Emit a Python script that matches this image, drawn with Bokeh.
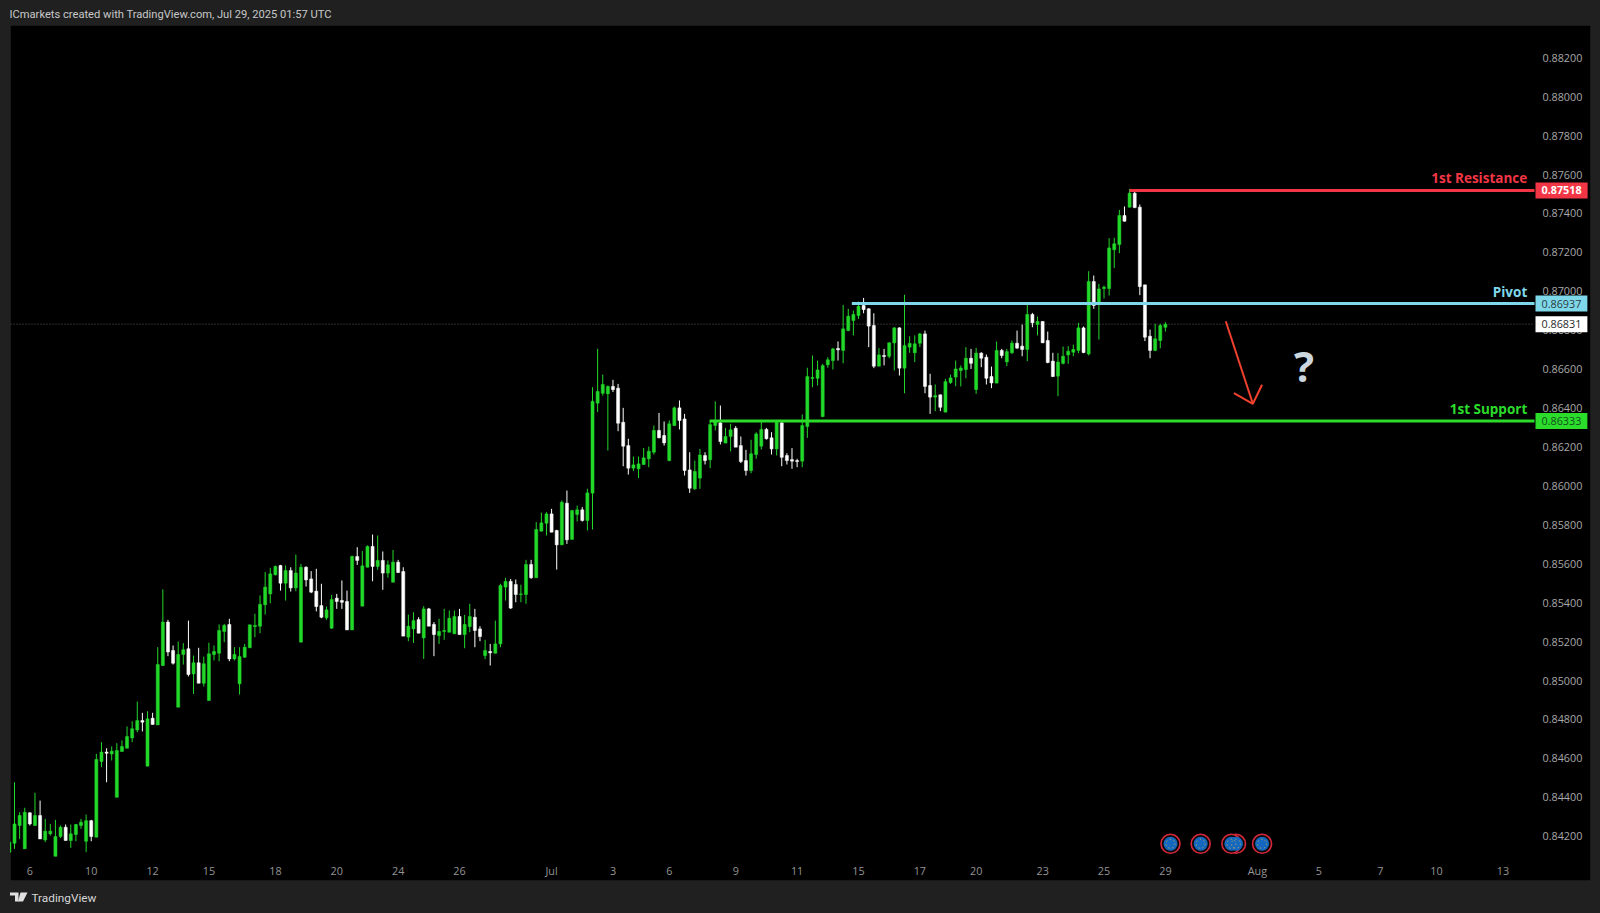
from bokeh.plotting import figure
from bokeh.models import (ColumnDataSource, Range1d, FixedTicker, PrintfTickFormatter,
                          BoxAnnotation, Label, PolyAnnotation)
from bokeh.core.properties import value
from bokeh.embed import file_html
from bokeh.resources import INLINE

opens = [.84118,.84164,.84255,.84135,.84320,.84255,.84306,.84181,.84212,.84097,
 .84198,.84246,.84178,.84209,.84255,.84174,.84280,.84195,.84584,.84632,
 .84623,.84400,.84635,.84652,.84705,.84746,.84794,.84560,.84806,.84772,
 .85077,.85300,.85154,.84863,.85134,.85163,.85034,.85091,.84986,.84897,
 .85134,.85140,.85252,.85288,.85111,.84983,.85120,.85168,.85277,.85279,
 .85389,.85445,.85543,.85591,.85500,.85565,.85476,.85197,.85582,.85522,
 .85459,.85385,.85322,.85269,.85423,.85411,.85406,.85260,.85637,.85382,
 .85582,.85689,.85586,.85617,.85552,.85505,.85608,.85560,.85223,.85265,
 .85313,.85219,.85368,.85288,.85231,.85252,.85248,.85240,.85329,.85236,
 .85277,.85325,.85265,.85128,.85149,.85140,.85188,.85480,.85509,.85493,
 .85442,.85442,.85596,.85528,.85767,.85808,.85856,.85771,.85697,.85911,
 .85725,.85853,.85877,.85822,.85963,.86425,.86476,.86473,.86511,.86502,
 .86327,.86207,.86091,.86088,.86110,.86139,.86173,.86285,.86259,.86130,
 .86310,.86401,.86344,.86082,.85985,.86040,.86156,.86134,.86310,.86324,
 .86220,.86254,.86296,.86207,.86130,.86079,.86161,.86204,.86290,.86247,
 .86190,.86324,.86156,.86135,.86130,.86127,.86305,.86552,.86553,.86356,
 .86622,.86644,.86706,.86696,.86798,.86850,.86875,.86927,.86910,.86824,
 .86615,.86670,.86666,.86735,.86812,.86605,.86713,.86684,.86733,.86781,
 .86516,.86456,.86468,.86379,.86531,.86559,.86593,.86598,.86656,.86495,
 .86682,.86661,.86562,.86528,.86696,.86637,.86684,.86733,.86718,.86701,
 .86881,.86829,.86845,.86747,.86641,.86564,.86630,.86673,.86687,.86696,
 .86812,.86678,.87050,.86941,.87014,.87014,.87213,.87240,.87389,.87432,
 .87504,.87432,.87033,.86769,.86696,.86747,.86815]
highs = [.84229,.84477,.84323,.84346,.84323,.84423,.84383,.84289,.84263,.84284,
 .84255,.84260,.84260,.84263,.84289,.84311,.84284,.84623,.84683,.84652,
 .84661,.84678,.84692,.84764,.84791,.84892,.84834,.84842,.84834,.85171,
 .85468,.85312,.85180,.85200,.85192,.85308,.85128,.85168,.85123,.85194,
 .85180,.85288,.85291,.85317,.85171,.85171,.85188,.85286,.85343,.85437,
 .85557,.85579,.85591,.85594,.85591,.85582,.85647,.85599,.85587,.85562,
 .85574,.85497,.85380,.85440,.85445,.85514,.85462,.85642,.85685,.85665,
 .85694,.85750,.85745,.85663,.85617,.85671,.85620,.85582,.85339,.85351,
 .85325,.85382,.85373,.85300,.85317,.85368,.85360,.85360,.85368,.85337,
 .85394,.85368,.85279,.85209,.85188,.85308,.85497,.85528,.85522,.85519,
 .85492,.85620,.85620,.85814,.85862,.85865,.85882,.85774,.85925,.85976,
 .85877,.85899,.85891,.85985,.86507,.86704,.86572,.86516,.86545,.86524,
 .86401,.86242,.86151,.86151,.86195,.86202,.86310,.86375,.86331,.86336,
 .86408,.86439,.86370,.86173,.86130,.86190,.86173,.86336,.86434,.86413,
 .86298,.86319,.86307,.86254,.86185,.86237,.86276,.86339,.86298,.86276,
 .86327,.86332,.86168,.86194,.86139,.86367,.86607,.86670,.86644,.86627,
 .86661,.86709,.86742,.86930,.86910,.86901,.86947,.86966,.86913,.86887,
 .86708,.86704,.86738,.86815,.86815,.86982,.86769,.86773,.86786,.86798,
 .86576,.86521,.86469,.86550,.86572,.86644,.86619,.86713,.86704,.86709,
 .86687,.86675,.86613,.86742,.86704,.86704,.86747,.86798,.86829,.86935,
 .86889,.86870,.86845,.86793,.86684,.86682,.86716,.86718,.86726,.86838,
 .86819,.87103,.87081,.87038,.87030,.87273,.87275,.87418,.87436,.87526,
 .87518,.87446,.87033,.86803,.86833,.86833,.86841]
lows = [.84118,.84135,.84186,.84135,.84255,.84255,.84186,.84169,.84203,.84097,
 .84191,.84178,.84140,.84174,.84238,.84118,.84174,.84195,.84555,.84477,
 .84589,.84400,.84635,.84652,.84683,.84734,.84738,.84560,.84774,.84772,
 .85074,.85125,.85082,.84863,.85082,.85021,.84931,.84986,.84969,.84897,
 .85103,.85099,.85197,.85099,.85103,.84928,.85116,.85168,.85223,.85243,
 .85339,.85397,.85540,.85462,.85411,.85457,.85459,.85197,.85483,.85449,
 .85355,.85320,.85312,.85265,.85368,.85368,.85260,.85260,.85594,.85382,
 .85582,.85510,.85569,.85466,.85528,.85505,.85552,.85228,.85202,.85193,
 .85243,.85111,.85279,.85125,.85188,.85209,.85248,.85240,.85236,.85166,
 .85248,.85171,.85202,.85110,.85077,.85140,.85171,.85411,.85368,.85402,
 .85402,.85394,.85522,.85528,.85767,.85745,.85762,.85570,.85697,.85702,
 .85725,.85817,.85817,.85771,.85776,.86379,.86464,.86182,.86482,.86281,
 .86101,.86058,.86076,.86040,.86108,.86096,.86161,.86245,.86207,.86127,
 .86310,.86290,.86053,.85964,.85980,.85985,.86110,.86091,.86285,.86213,
 .86220,.86177,.86199,.86117,.86053,.86065,.86139,.86187,.86238,.86161,
 .86156,.86101,.86110,.86088,.86096,.86096,.86247,.86507,.86516,.86353,
 .86607,.86598,.86644,.86630,.86795,.86773,.86858,.86887,.86713,.86605,
 .86615,.86619,.86656,.86593,.86567,.86476,.86684,.86636,.86713,.86476,
 .86370,.86384,.86384,.86379,.86524,.86512,.86511,.86553,.86601,.86473,
 .86610,.86521,.86502,.86528,.86656,.86615,.86678,.86704,.86666,.86641,
 .86815,.86773,.86735,.86630,.86559,.86461,.86624,.86627,.86666,.86682,
 .86682,.86670,.86910,.86752,.86963,.86978,.87120,.87196,.87358,.87432,
 .87427,.86980,.86744,.86656,.86692,.86707,.86793]
closes = [.84169,.84263,.84306,.84323,.84263,.84306,.84186,.84226,.84226,.84198,
 .84246,.84178,.84212,.84260,.84272,.84280,.84198,.84594,.84632,.84626,
 .84637,.84640,.84661,.84712,.84752,.84794,.84786,.84803,.84774,.85082,
 .85300,.85146,.85089,.85134,.85158,.85031,.85091,.84986,.85086,.85137,
 .85149,.85257,.85283,.85111,.85134,.85123,.85171,.85286,.85283,.85391,
 .85480,.85548,.85586,.85500,.85565,.85476,.85552,.85582,.85517,.85454,
 .85380,.85325,.85363,.85416,.85406,.85402,.85260,.85637,.85617,.85589,
 .85689,.85586,.85617,.85552,.85594,.85608,.85555,.85228,.85279,.85308,
 .85243,.85368,.85279,.85236,.85252,.85257,.85320,.85329,.85236,.85288,
 .85329,.85257,.85226,.85154,.85142,.85188,.85488,.85509,.85372,.85442,
 .85445,.85596,.85528,.85776,.85810,.85856,.85762,.85697,.85916,.85723,
 .85873,.85877,.85822,.85964,.86434,.86485,.86521,.86511,.86495,.86322,
 .86204,.86091,.86108,.86113,.86144,.86178,.86285,.86247,.86221,.86319,
 .86401,.86336,.86079,.85988,.86074,.86159,.86130,.86315,.86336,.86228,
 .86254,.86288,.86199,.86125,.86079,.86165,.86267,.86290,.86242,.86190,
 .86327,.86147,.86130,.86127,.86125,.86310,.86562,.86557,.86596,.86618,
 .86648,.86704,.86699,.86807,.86872,.86881,.86923,.86906,.86821,.86615,
 .86673,.86665,.86735,.86812,.86605,.86721,.86732,.86730,.86781,.86511,
 .86456,.86464,.86404,.86536,.86555,.86601,.86606,.86656,.86630,.86682,
 .86656,.86553,.86529,.86696,.86670,.86690,.86733,.86708,.86701,.86881,
 .86838,.86845,.86735,.86634,.86562,.86636,.86666,.86692,.86701,.86812,
 .86685,.87050,.86927,.87012,.87021,.87223,.87244,.87389,.87360,.87504,
 .87430,.87024,.86764,.86696,.86756,.86824,.86831]

y_ticks = [.842,.844,.846,.848,.850,.852,.854,.856,.858,.860,.862,.864,.866,.868,.870,.872,.874,.876,.878,.880,.882]
date_bars = [4,16,28,39,52,64,76,88,106,118,129,142,154,166,178,189,202,214,226,244,256,268,279,292]
date_labels = ["6","10","12","15","18","20","24","26","Jul","3","6","9","11","15","17","20","23","25","29","Aug","5","7","10","13"]

level_names = ["1st Resistance","Pivot","1st Support"]
level_prices = [.87518,.86937,.86333]
level_start_bars = [219,164.7,136.9]
level_colors = ["#f23645","#7fd8ea","#2bdc2b"]
level_text_colors = ["#ffffff","#2a3a40","#14501e"]
current_price = .86831

arrow_bars = [[237.8,243.1],[239.4,243.1,244.9]]
arrow_prices = [[.868462,.864218],[.864763,.864218,.865194]]
question_bar = [253.1]
question_price = [.86620]
event_bars = [239.8,227.0,232.9,238.9,244.9]
event_price = .84161

BG = "#202020"
GREEN = "#22d82a"
n = len(opens)
bars = list(range(n))
colors = [GREEN if c >= o else "#ffffff" for o, c in zip(opens, closes)]
src = ColumnDataSource(dict(bar=bars, top=[max(o, c) for o, c in zip(opens, closes)],
                            bottom=[min(o, c) for o, c in zip(opens, closes)],
                            high=highs, low=lows, color=colors))

# the frame is the whole page; the chart's scale is fixed by bar spacing and price pitch
BAR_PX = 5.115
PX0 = 8.9
x_lo = -PX0 / BAR_PX
x_hi = (1600 - PX0) / BAR_PX
scale_right = (1534 - PX0) / BAR_PX
scale_left = (10 - PX0) / BAR_PX
y_hi = .884941
y_lo = .838028
axis_price = .840854

p = figure(frame_width=1600, frame_height=913, output_backend="svg", toolbar_location=None,
           x_range=Range1d(x_lo, x_hi), y_range=Range1d(y_lo, y_hi),
           x_axis_location="below", y_axis_location="right",
           min_border_left=0, min_border_right=0, min_border_top=0, min_border_bottom=0,
           background_fill_color=BG, border_fill_color=BG, outline_line_color=None)
p.grid.visible = False

# black chart area including the axis strips
p.add_layout(BoxAnnotation(left=10, right=1590, top=25, bottom=880, left_units="canvas", right_units="canvas",
                           top_units="canvas", bottom_units="canvas", fill_color="#000000", fill_alpha=1,
                           line_color="#2c2c2c", line_width=1, level="underlay", editable=False))
# left edge hides what the chart clips
p.add_layout(BoxAnnotation(left=0, right=9.5, top=25, bottom=880, left_units="canvas", right_units="canvas",
                           top_units="canvas", bottom_units="canvas", fill_color=BG, fill_alpha=1,
                           line_color=None, editable=False))

xa = p.xaxis[0]
xa.ticker = FixedTicker(ticks=date_bars)
xa.major_label_overrides = {b: l for b, l in zip(date_bars, date_labels)}
xa.fixed_location = axis_price
ya = p.yaxis[0]
ya.ticker = FixedTicker(ticks=y_ticks)
ya.formatter = PrintfTickFormatter(format="%.5f")
ya.fixed_location = scale_right
for a, st, col in ((xa, 4, "#949494"), (ya, 8, "#a8a8a8")):
    a.axis_line_color = None
    a.major_tick_line_color = None
    a.minor_tick_line_color = None
    a.major_tick_out = 0
    a.major_tick_in = 0
    a.major_label_text_color = col
    a.major_label_text_font = "Open Sans"
    a.major_label_text_font_size = "10.8px"
    a.major_label_standoff = st

# dotted last-price line
p.segment([scale_left], [current_price], [scale_right], [current_price], line_color="#5a5a5a", line_width=1, line_dash="1 2")

# candles
p.segment("bar", "high", "bar", "low", source=src, line_color="color", line_width=1)
p.vbar("bar", width=0.6, top="top", bottom="bottom", source=src, fill_color="color", line_color="color", line_width=0.5)

# levels
p.segment(level_start_bars, level_prices, [scale_right] * 3, level_prices, line_color=level_colors, line_width=3)
p.text([scale_right - 1.42] * 3, level_prices, text=level_names, text_color=level_colors, text_align="right",
       text_baseline="middle", y_offset=-12, text_font=value("Open Sans"), text_font_style="bold", text_font_size="13.5px")

# arrow and question mark
p.multi_line(arrow_bars, arrow_prices, line_color="#f0402e", line_width=2)
p.text(question_bar, question_price, text=["?"], text_color="#ccd6de", text_align="center", text_baseline="middle",
       text_font=value("Open Sans"), text_font_style="bold", text_font_size="42px")

# event markers
ev_y = [event_price] * len(event_bars)
p.scatter(event_bars, ev_y, size=19, fill_color="#0a0a0a", line_color="#d8283c", line_width=1.6)
p.scatter(event_bars, ev_y, size=14, fill_color="#1468c0", line_color=None)
p.scatter(event_bars, ev_y, size=9, fill_color=None, line_color="#d9b840", line_width=1, line_dash="1 3")

# price boxes
def price_box(price, text, fill, color, bold=False):
    p.add_layout(Label(x=1535, y=price, x_units="canvas", y_units="data", text=text, text_color=color,
                       text_font="Open Sans", text_font_size="10.8px", text_baseline="middle", text_align="left",
                       text_font_style="bold" if bold else "normal", background_fill_color=fill, padding=(6, 4)))

for pr, fc, tc in zip(level_prices, level_colors, level_text_colors):
    price_box(pr, "%.5f" % pr, fc, tc, bold=fc == "#f23645")
price_box(current_price, "%.5f" % current_price, "#ffffff", "#2a2a2a")

# header and footer
p.add_layout(Label(x=9, y=14, x_units="canvas", y_units="canvas", text="ICmarkets created with TradingView.com, Jul 29, 2025 01:57 UTC",
                   text_color="#c8c8c8", text_font="Roboto", text_font_size="11.15px", text_baseline="middle", text_align="left"))
p.add_layout(Label(x=31, y=897, x_units="canvas", y_units="canvas", text="TradingView",
                   text_color="#d6d6d6", text_font="Roboto", text_font_size="11.8px", text_baseline="middle", text_align="left"))
for xs, ys in (([9.5, 18, 18, 14.5, 14.5, 9.5], [892, 892, 901, 901, 895, 895]),
               ([20, 27, 22.5, 17.5], [892, 892, 901, 901])):
    p.add_layout(PolyAnnotation(xs=xs, ys=ys, xs_units="canvas", ys_units="canvas", fill_color="#e0e0e0",
                                fill_alpha=1, line_color=None, level="overlay"))

html = file_html(p, INLINE).replace("<head>", "<head><style>html,body{background:#202020}</style>", 1)
open("out.html", "w").write(html)
